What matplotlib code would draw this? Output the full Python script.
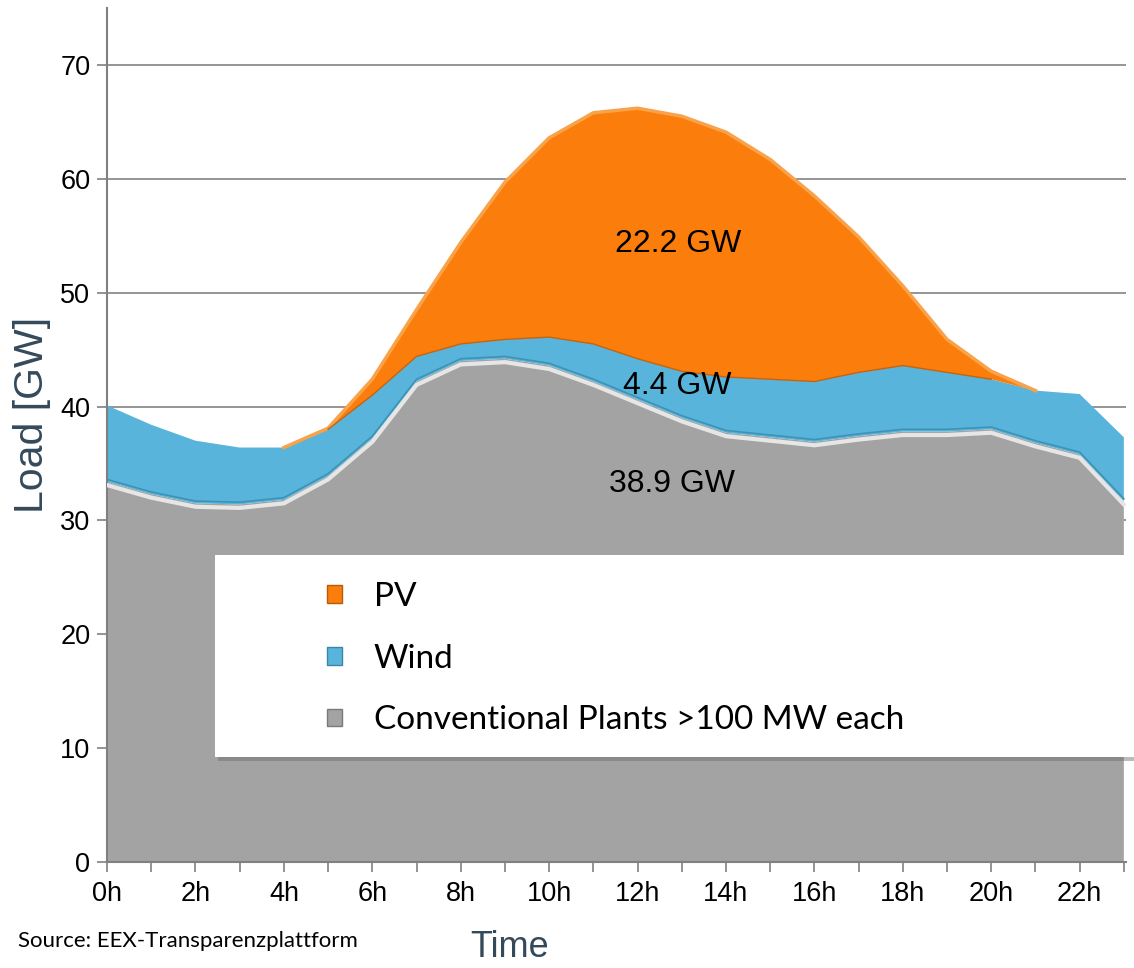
import matplotlib
matplotlib.use('Agg')
import matplotlib.pyplot as plt
from matplotlib.patches import Patch, Rectangle

plt.rcParams['font.family'] = ['Liberation Sans', 'DejaVu Sans']

# hourly load values [GW]
hours = list(range(24))
conventional = [33.4, 32.3, 31.5, 31.4, 31.8, 33.9, 37.2, 42.2, 44.0, 44.2, 43.6, 42.2,
                40.6, 39.0, 37.7, 37.3, 36.9, 37.4, 37.8, 37.8, 38.0, 36.8, 35.8, 31.7]
wind = [6.7, 6.1, 5.5, 5.0, 4.6, 4.1, 3.8, 2.2, 1.5, 1.7, 2.5, 3.3,
        3.6, 4.1, 4.9, 5.1, 5.3, 5.6, 5.8, 5.2, 4.4, 4.6, 5.3, 5.6]
pv = [0, 0, 0, 0, 0, 0.1, 1.4, 4.1, 8.9, 13.8, 17.5, 20.3,
      22.0, 22.4, 21.5, 19.3, 16.3, 11.9, 7.0, 2.9, 0.7, 0, 0, 0]

xtick_labels = [f'{h}h' if h % 2 == 0 else '' for h in hours]
legend_labels = ['PV', 'Wind', 'Conventional Plants >100 MW each']
area_labels = ['22.2 GW', '4.4 GW', '38.9 GW']

c_conv = '#a3a3a3'
c_wind = '#58b4da'
c_pv = '#fb7d0b'
c_text = '#34495a'

fig = plt.figure(figsize=(11.34, 9.68), dpi=100)
ax = fig.add_axes([0.0944, 0.1095, 0.8986, 0.8822])

ax.set_xlim(0, 23.05)
ax.set_ylim(0, 75)
ax.set_yticks(range(0, 80, 10))
for y in range(10, 80, 10):
    ax.axhline(y, color='#8c8c8c', lw=1.3, zorder=0)

ax.stackplot(hours, conventional, wind, pv, colors=[c_conv, c_wind, c_pv], zorder=2)

top_conv = list(conventional)
top_wind = [c + w for c, w in zip(conventional, wind)]
top_pv = [c + w + p for c, w, p in zip(conventional, wind, pv)]
# only edge the PV where it exists
nz = [i for i, p in enumerate(pv) if p > 0]
i0, i1 = max(nz[0] - 1, 0), min(nz[-1] + 2, len(pv))
ax.plot(hours[i0:i1], top_pv[i0:i1], color='#f8a24a', lw=2.5, zorder=3)
ax.plot(hours[i0 + 1:i1 - 1], top_wind[i0 + 1:i1 - 1], color='#c8620c', lw=1.0, zorder=3)
ax.plot(hours, [t - 0.3 for t in top_conv], color='#e6e6e6', lw=3, zorder=3)
ax.plot(hours, [t + 0.2 for t in top_conv], color='#3f92b5', lw=1.2, zorder=3)

ax.text(12.93, 54.3, area_labels[0], fontsize=23, ha='center', va='center', zorder=4)
ax.text(12.9, 41.8, area_labels[1], fontsize=23, ha='center', va='center', zorder=4)
ax.text(12.78, 33.2, area_labels[2], fontsize=23, ha='center', va='center', zorder=4)

ax.set_xticks(hours)
ax.set_xticklabels(xtick_labels)
ax.tick_params(axis='both', labelsize=19.5, colors='#808080', labelcolor='black',
               length=7, width=1.2, direction='out')
ax.tick_params(axis='x', pad=7)
ax.tick_params(axis='y', pad=5)
for s in ['top', 'right']:
    ax.spines[s].set_visible(False)
for s in ['left', 'bottom']:
    ax.spines[s].set_color('#808080')
    ax.spines[s].set_linewidth(1.5)

ax.set_ylabel('Load [GW]', fontsize=29.5, color=c_text)
ax.yaxis.set_label_coords(-0.055, 0.523)
fig.text(510 / 1134, 0.003, 'Time', fontsize=26, color=c_text, ha='center', va='bottom')
fig.text(18 / 1134, (968 - 941) / 968, 'Source: EEX-Transparenzplattform', fontsize=16,
         family='Lato', ha='left', va='center')

# legend box with shadow
fig.add_artist(Rectangle((218 / 1134, (968 - 761) / 968), 916 / 1134, 202 / 968,
                         transform=fig.transFigure, facecolor='#6a6a6a', edgecolor='none',
                         alpha=0.45, zorder=5))
fig.add_artist(Rectangle((215 / 1134, (968 - 757) / 968), 919 / 1134, 202 / 968,
                         transform=fig.transFigure, facecolor='white', edgecolor='none',
                         zorder=6))
handles = [Patch(facecolor=c_pv, edgecolor='#b85a08'),
           Patch(facecolor=c_wind, edgecolor='#3a86a6'),
           Patch(facecolor=c_conv, edgecolor='#7a7a7a')]
leg = fig.legend(handles, legend_labels, loc='upper left',
                 bbox_to_anchor=(297 / 1134, (968 - 552) / 968), frameon=False,
                 prop={'family': 'Lato', 'size': 24}, handlelength=0.45, handleheight=0.45,
                 handletextpad=0.95, labelspacing=0.95)
leg.set_zorder(7)

fig.savefig('out.png', dpi=100)
